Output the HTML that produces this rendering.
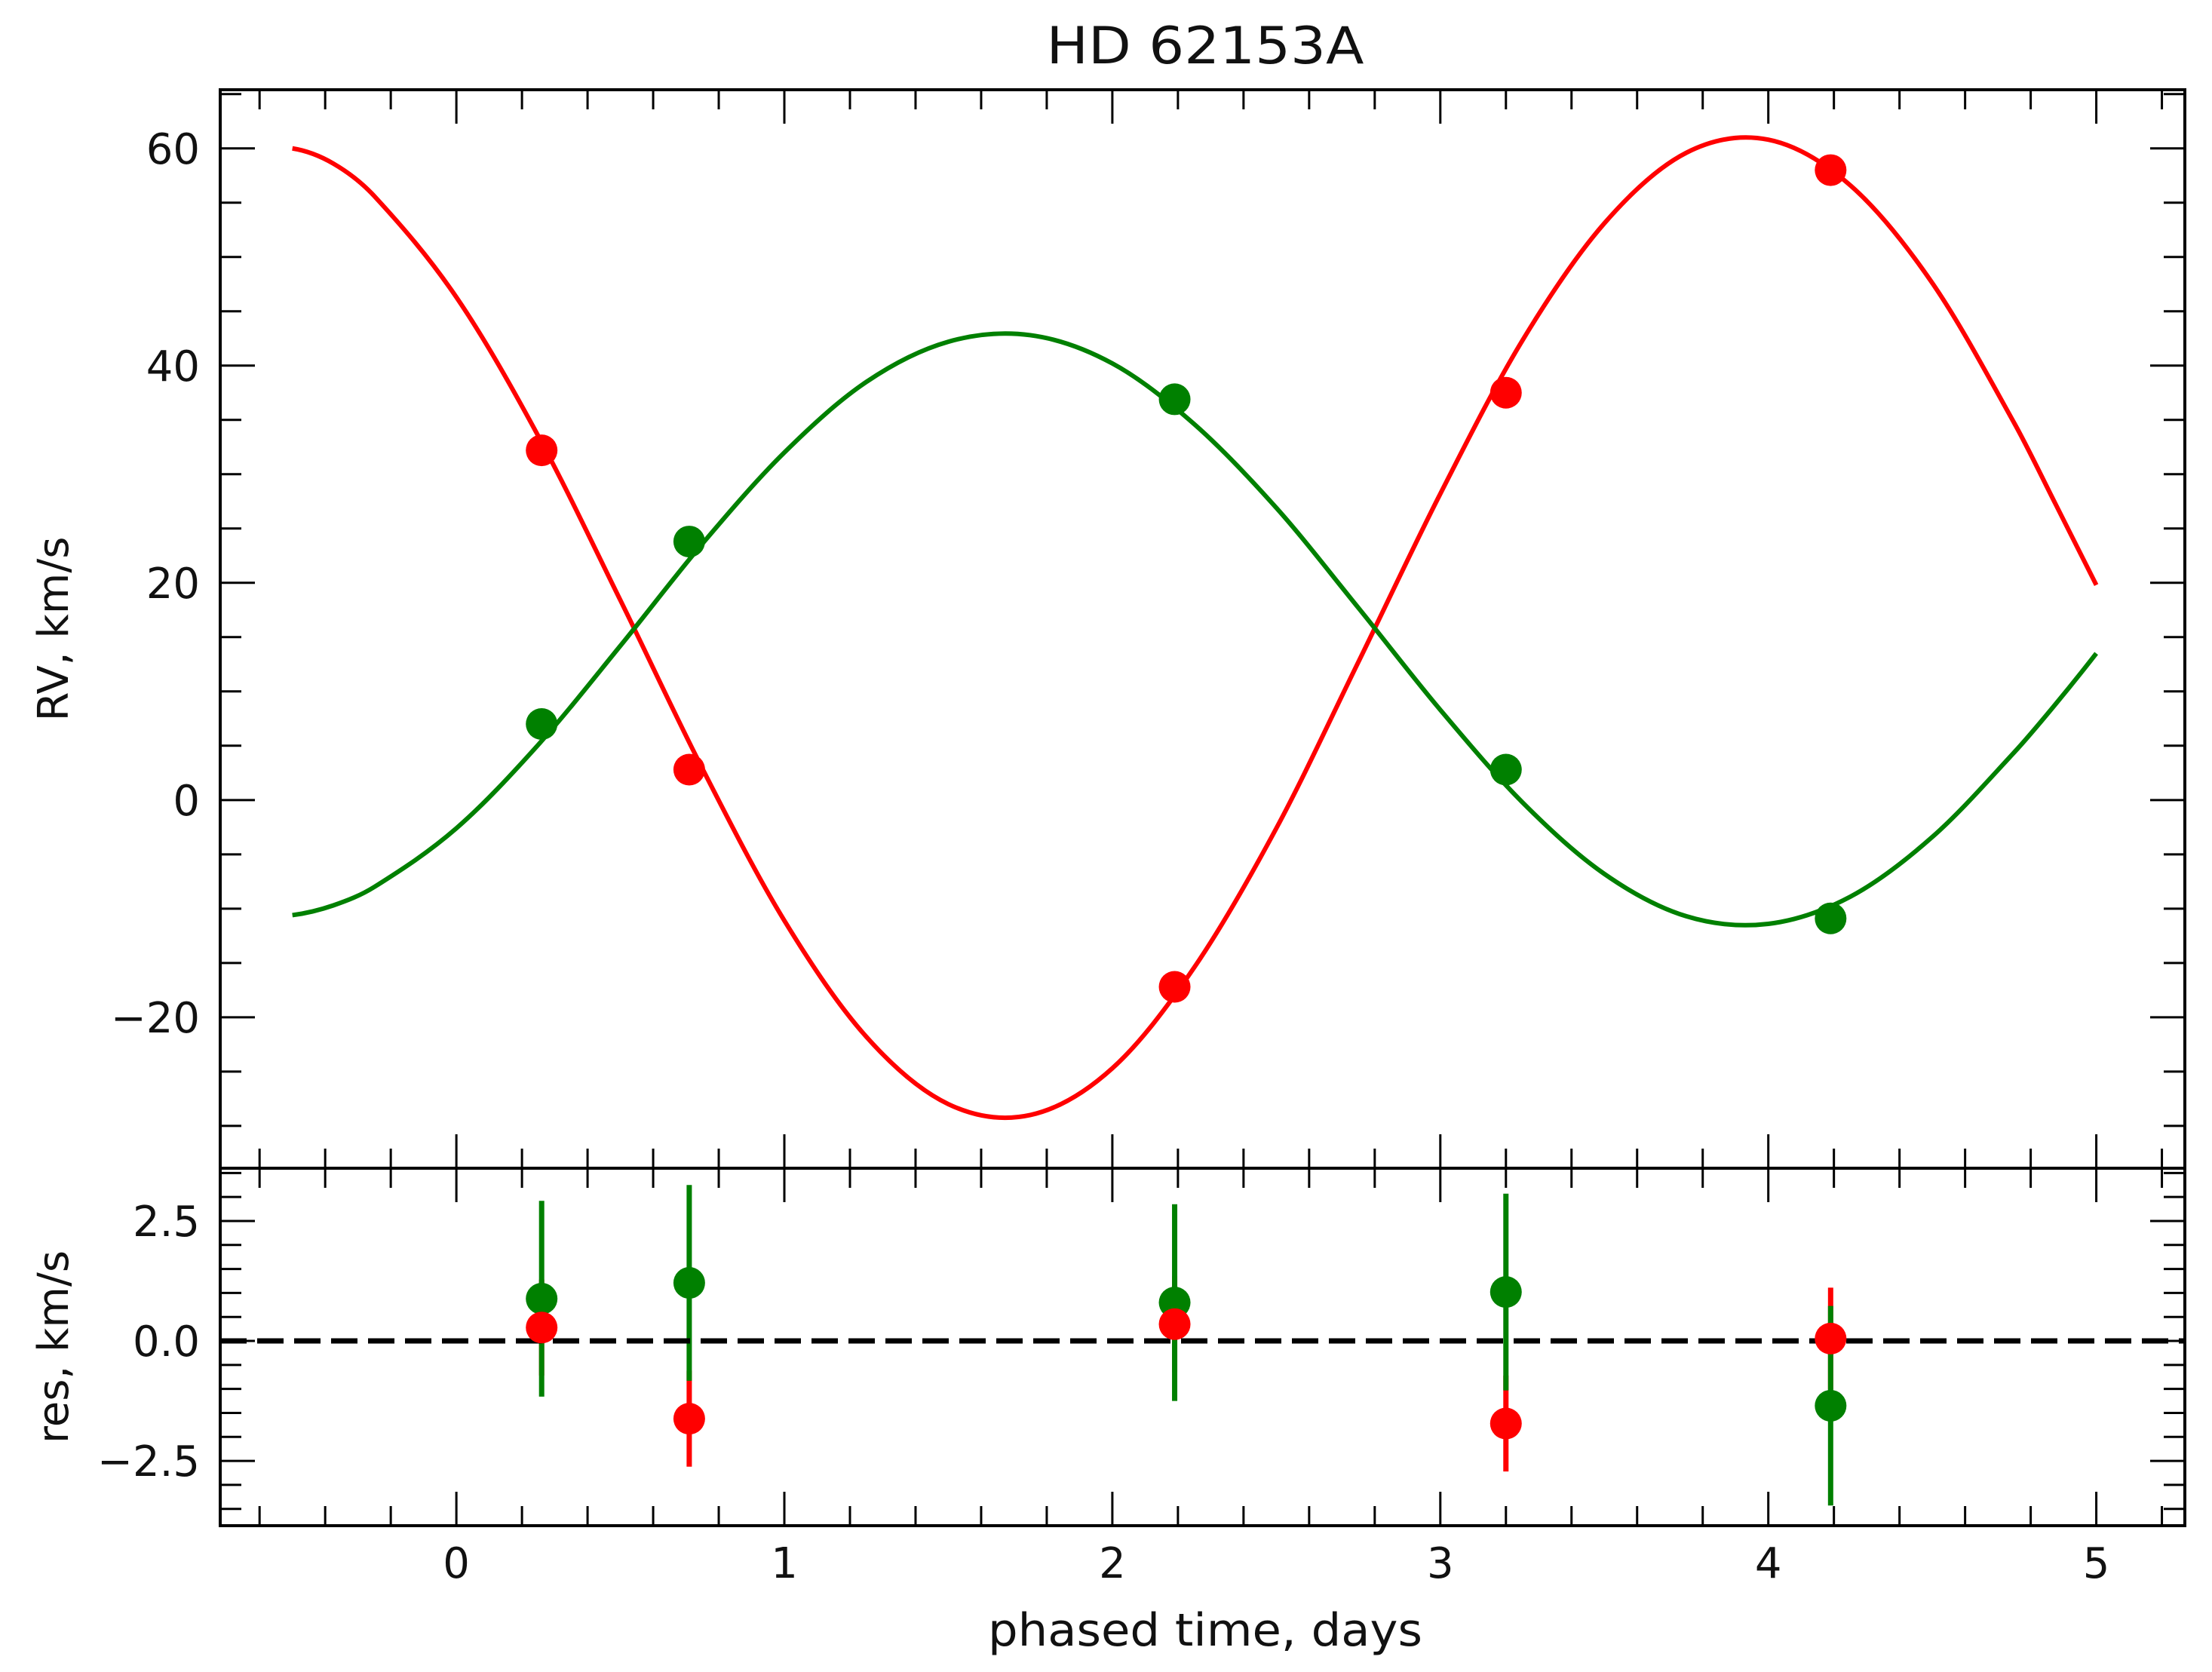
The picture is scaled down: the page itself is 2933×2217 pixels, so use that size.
<!DOCTYPE html>
<html><head><meta charset="utf-8"><style>
html,body{margin:0;padding:0;background:#fff;}
svg{display:block;}
text{font-family:"DejaVu Sans","Liberation Sans",sans-serif;fill:#111;}
</style></head><body>
<svg id="chart" width="2933" height="2217" viewBox="0 0 2933 2217" xmlns="http://www.w3.org/2000/svg">
<rect x="0" y="0" width="2933" height="2217" fill="#fff"/>
<g id="g-main"></g>
</svg>
<script>
// ---- data ----
const curveT = [-0.5,-0.375,-0.25,0,0.25,0.5,0.75,1,1.25,1.5,1.75,2,2.25,2.5,2.75,3,3.25,3.5,3.75,4,4.25,4.5,4.75,4.875,5];
const curveRed = [60.0,58.6,55.6,46.3,33.5,18.4,2.9,-11.1,-21.8,-28.0,-29.0,-24.7,-15.4,-2.6,12.7,28.2,42.3,53.1,59.6,60.8,56.6,47.6,34.7,27.3,19.8];
const curveGreen = [-10.6,-9.7,-8.0,-2.6,5.1,14.2,23.6,32.0,38.5,42.2,42.8,40.2,34.6,26.9,17.7,8.3,-0.2,-6.8,-10.7,-11.4,-8.9,-3.4,4.4,8.8,13.5];
const obsT = [0.26,0.71,2.19,3.20,4.19];
const obsRed = [32.2,2.8,-17.2,37.5,58.0];
const obsGreen = [7.0,23.8,36.9,2.8,-10.9];
const resRed = [0.28,-1.62,0.35,-1.72,0.05];
const errRed = [1.0,1.0,1.0,1.0,1.06];
const resGreen = [0.88,1.21,0.8,1.02,-1.35];
const errGreen = [2.04,2.04,2.05,2.05,2.08];
const xTicks = [0,1,2,3,4,5];
const yTicksTop = [-20,0,20,40,60];
const yTicksRes = [-2.5,0.0,2.5];
const yTicksResLabels = ["\u22122.5","0.0","2.5"];

// ---- layout ----
const L=292,R=2897,T1=119,B1=1549,B2=2023;
const xmin=-0.72,xmax=5.27, y1min=-33.9,y1max=65.4, y2min=-3.85,y2max=3.6;
const sx=v=>L+(v-xmin)/(xmax-xmin)*(R-L);
const sy1=v=>B1-(v-y1min)/(y1max-y1min)*(B1-T1);
const sy2=v=>B2-(v-y2min)/(y2max-y2min)*(B2-B1);
const NS="http://www.w3.org/2000/svg";
const g=document.getElementById('g-main');
function mk(tag,attrs,parent){const e=document.createElementNS(NS,tag);for(const k in attrs)e.setAttribute(k,attrs[k]);(parent||g).appendChild(e);return e;}
function fmt(v){return v<0?"\u2212"+Math.abs(v):""+v;}

const defs=mk('defs',{});
const c1=mk('clipPath',{id:'c1'},defs);mk('rect',{x:L,y:T1,width:R-L,height:B1-T1},c1);
const c2=mk('clipPath',{id:'c2'},defs);mk('rect',{x:L,y:B1,width:R-L,height:B2-B1},c2);

function smooth(xs,ys,fy){const p=xs.map((x,i)=>[sx(x),fy(ys[i])]);const n=p.length;
 const P=i=>{if(i<0)return[3*p[0][0]-3*p[1][0]+p[2][0],3*p[0][1]-3*p[1][1]+p[2][1]];
   if(i>=n)return[3*p[n-1][0]-3*p[n-2][0]+p[n-3][0],3*p[n-1][1]-3*p[n-2][1]+p[n-3][1]];return p[i];};
 let d=`M${p[0][0]},${p[0][1]}`;
 for(let i=0;i<n-1;i++){const p0=P(i-1),p1=p[i],p2=p[i+1],p3=P(i+2);
  const h=p2[0]-p1[0];
  const m1=(p2[1]-p0[1])/(p2[0]-p0[0]), m2=(p3[1]-p1[1])/(p3[0]-p1[0]);
  d+=` C${p1[0]+h/3},${p1[1]+m1*h/3} ${p2[0]-h/3},${p2[1]-m2*h/3} ${p2[0]},${p2[1]}`;}return d;}

const topG=mk('g',{'clip-path':'url(#c1)'});


let e=mk('path',{d:smooth(curveT,curveRed,sy1),fill:'none',stroke:'#ff0000','stroke-width':6},topG);


e=mk('path',{d:smooth(curveT,curveGreen,sy1),fill:'none',stroke:'#008000','stroke-width':6},topG);


obsT.forEach((t,i)=>{
 let c=mk('circle',{cx:sx(t),cy:sy1(obsRed[i]),r:21,fill:'#ff0000'},topG);
 
 
 c=mk('circle',{cx:sx(t),cy:sy1(obsGreen[i]),r:21,fill:'#008000'},topG);
 
 
});

const botG=mk('g',{'clip-path':'url(#c2)'});


obsT.forEach((t,i)=>{
 let l=mk('line',{x1:sx(t),x2:sx(t),y1:sy2(resRed[i]-errRed[i]),y2:sy2(resRed[i]+errRed[i]),stroke:'#ff0000','stroke-width':7},botG);
 
 
});
obsT.forEach((t,i)=>{
 let l=mk('line',{x1:sx(t),x2:sx(t),y1:sy2(resGreen[i]-errGreen[i]),y2:sy2(resGreen[i]+errGreen[i]),stroke:'#008000','stroke-width':7},botG);
 
 
});
e=mk('line',{x1:L,x2:R,y1:sy2(0),y2:sy2(0),stroke:'#000','stroke-width':7,'stroke-dasharray':'35,14'},botG);


obsT.forEach((t,i)=>{
 let c=mk('circle',{cx:sx(t),cy:sy2(resGreen[i]),r:21,fill:'#008000'},botG);
 
 
});
obsT.forEach((t,i)=>{
 let c=mk('circle',{cx:sx(t),cy:sy2(resRed[i]),r:21,fill:'#ff0000'},botG);
 
 
});

const tk=mk('g',{stroke:'#000','stroke-width':3});


function xt(v,len){[[T1,1],[B1,-1],[B1,1],[B2,-1]].forEach(([y,d])=>mk('line',{x1:sx(v),x2:sx(v),y1:y,y2:y+d*len},tk));}
for(let k=-3;k<=26;k++){const v=k*0.2;if(v<xmin||v>xmax)continue;xt(v,Math.abs(v-Math.round(v))<1e-6?45:26);}
for(let v=-30;v<=65;v+=5){const y=sy1(v);const len=v%20===0?46:28;mk('line',{x1:L,x2:L+len,y1:y,y2:y},tk);mk('line',{x1:R,x2:R-len,y1:y,y2:y},tk);}
for(let k=-7;k<=7;k++){const v=k*0.5;if(v<y2min||v>y2max)continue;const y=sy2(v);const len=k%5===0?46:28;mk('line',{x1:L,x2:L+len,y1:y,y2:y},tk);mk('line',{x1:R,x2:R-len,y1:y,y2:y},tk);}

e=mk('rect',{x:L,y:T1,width:R-L,height:B1-T1,fill:'none',stroke:'#000','stroke-width':4});


e=mk('rect',{x:L,y:B1,width:R-L,height:B2-B1,fill:'none',stroke:'#000','stroke-width':4});



xTicks.forEach(v=>{const t=mk('text',{x:sx(v),y:2092,'font-size':56,'text-anchor':'middle'});t.textContent=fmt(v);
 
 });
yTicksTop.forEach(v=>{const t=mk('text',{x:265,y:sy1(v)+20,'font-size':56,'text-anchor':'end'});t.textContent=fmt(v);
 
 });
yTicksRes.forEach((v,i)=>{const t=mk('text',{x:265,y:sy2(v)+20,'font-size':56,'text-anchor':'end'});t.textContent=yTicksResLabels[i];
 
 });
let tt=mk('text',{x:1598,y:84,'font-size':68,'text-anchor':'middle',textLength:421,lengthAdjust:'spacingAndGlyphs'});tt.textContent='HD 62153A';


tt=mk('text',{x:1598,y:2182,'font-size':60,'text-anchor':'middle',textLength:576,lengthAdjust:'spacingAndGlyphs'});tt.textContent='phased time, days';


tt=mk('text',{x:0,y:0,'font-size':56,'text-anchor':'middle',transform:`translate(90,${(T1+B1)/2}) rotate(-90)`});tt.textContent='RV, km/s';


tt=mk('text',{x:0,y:0,'font-size':56,'text-anchor':'middle',transform:`translate(90,${(B1+B2)/2}) rotate(-90)`});tt.textContent='res, km/s';


</script>
</body></html>
